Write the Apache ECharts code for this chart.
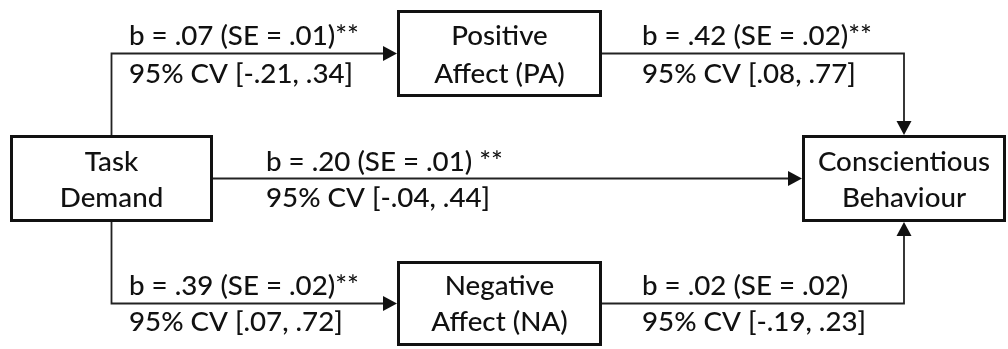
<!DOCTYPE html>
<html><head><meta charset="utf-8">
<script src="https://cdn.jsdelivr.net/npm/echarts@6/dist/echarts.min.js"></script>
<style>html,body{margin:0;padding:0;background:#fff}#chart{width:1008px;height:349px}</style>
</head><body><div id="chart"></div>
<script>
// ---------------- data ----------------
const nodeNames = ['Task\nDemand', 'Positive\nAffect (PA)', 'Negative\nAffect (NA)', 'Conscientious\nBehaviour'];
const pathFrom = [0, 1, 0, 0, 2];
const pathTo   = [1, 3, 3, 2, 3];
const pathCoef = ['b = .07 (SE = .01)**', 'b = .42 (SE = .02)**', 'b = .20 (SE = .01) **', 'b = .39 (SE = .02)**', 'b = .02 (SE = .02)'];
const pathCI   = ['95% CV [-.21, .34]', '95% CV [.08, .77]', '95% CV [-.04, .44]', '95% CV [.07, .72]', '95% CV [-.19, .23]'];

// ---------------- layout (diagram geometry, chart units) ----------------
const boxes = [[10, 135, 213, 222], [397, 10, 602, 97], [397, 261, 602, 346], [802, 135, 1006, 222]];
const rowBaselines = [[45, 82.5], [170.5, 207], [295, 331]];
const nodeRow = [1, 0, 2, 1];
const pathRoute = ['up-right', 'right-down', 'right', 'down-right', 'right-up'];
const pathLabelX = [129, 642, 266, 129, 642];
const pathLabelRow = [0, 0, 1, 2, 2];

// ---------------- styles ----------------
const FONT = 'Lato';
const WEIGHT = 500;
const TEXT_COLOR = '#111';
const BOX_COLOR = '#111';
const LINE_COLOR = '#222';
const ARROW_LEN = 14, ARROW_HALF = 7.5;

const mctx = document.createElement('canvas').getContext('2d');
mctx.font = WEIGHT + ' 100px ' + FONT;
const refW = mctx.measureText(pathCoef[0]).width + mctx.measureText(pathCI[0]).width;
const FS = 100 * (237 + 217) / refW;
mctx.font = WEIGHT + ' ' + FS + 'px ' + FONT;
mctx.textBaseline = 'middle';
let BASE_OFF = mctx.measureText('H').actualBoundingBoxDescent;
if (!(BASE_OFF > 0)) BASE_OFF = 0.35 * FS;

function textEl(api, str, x, baseline, align) {
  const p = api.coord([x, baseline]);
  return { type: 'text', style: { text: str, x: p[0], y: p[1] - BASE_OFF, align: align, verticalAlign: 'middle',
    fontSize: FS, fontFamily: FONT, fontWeight: WEIGHT, fill: TEXT_COLOR } };
}
const cx = b => (b[0] + b[2]) / 2, cy = b => (b[1] + b[3]) / 2;

function routePoints(i) {
  const f = boxes[pathFrom[i]], t = boxes[pathTo[i]];
  switch (pathRoute[i]) {
    case 'up-right':   return [[cx(f), f[1]], [cx(f), cy(t)], [t[0], cy(t)]];
    case 'down-right': return [[cx(f), f[3]], [cx(f), cy(t)], [t[0], cy(t)]];
    case 'right-down': return [[f[2], cy(f)], [cx(t), cy(f)], [cx(t), t[1]]];
    case 'right-up':   return [[f[2], cy(f)], [cx(t), cy(f)], [cx(t), t[3]]];
    default:           return [[f[2], cy(t)], [t[0], cy(t)]];
  }
}

const chart = echarts.init(document.getElementById('chart'), null, { renderer: 'canvas' });
chart.setOption({
  animation: false,
  backgroundColor: '#fff',
  grid: { left: 0, right: 0, top: 0, bottom: 0 },
  xAxis: { type: 'value', min: 0, max: 1008, show: false },
  yAxis: { type: 'value', min: 0, max: 349, inverse: true, show: false },
  series: [
    { // paths
      type: 'custom', coordinateSystem: 'cartesian2d', silent: true, z: 1,
      data: pathCoef.map((_, i) => [i, 0]),
      renderItem: function (params, api) {
        const i = params.dataIndex;
        const pts = routePoints(i).map(p => api.coord(p));
        const end = pts[pts.length - 1], prev = pts[pts.length - 2];
        let dx = end[0] - prev[0], dy = end[1] - prev[1];
        const L = Math.hypot(dx, dy); dx /= L; dy /= L;
        const base = [end[0] - dx * ARROW_LEN, end[1] - dy * ARROW_LEN];
        const line = pts.slice(0, -1).concat([base]);
        return { type: 'group', children: [
          { type: 'polyline', shape: { points: line }, style: { stroke: LINE_COLOR, lineWidth: 1.8, fill: null } },
          { type: 'polygon', shape: { points: [end, [base[0] - dy * ARROW_HALF, base[1] + dx * ARROW_HALF], [base[0] + dy * ARROW_HALF, base[1] - dx * ARROW_HALF]] },
            style: { fill: BOX_COLOR } }
        ] };
      }
    },
    { // path labels
      type: 'custom', coordinateSystem: 'cartesian2d', silent: true, z: 2,
      data: pathCoef.map((_, i) => [i, 0]),
      renderItem: function (params, api) {
        const i = params.dataIndex, r = rowBaselines[pathLabelRow[i]];
        return { type: 'group', children: [
          textEl(api, pathCoef[i], pathLabelX[i], r[0], 'left'),
          textEl(api, pathCI[i], pathLabelX[i], r[1], 'left')
        ] };
      }
    },
    { // nodes
      type: 'custom', coordinateSystem: 'cartesian2d', silent: true, z: 3,
      data: nodeNames.map((_, i) => [i, 0]),
      renderItem: function (params, api) {
        const i = params.dataIndex, b = boxes[i];
        const p0 = api.coord([b[0], b[1]]), p1 = api.coord([b[2], b[3]]);
        const lines = nodeNames[i].split('\n'), r = rowBaselines[nodeRow[i]];
        return { type: 'group', children: [
          { type: 'rect', shape: { x: p0[0] + 1.5, y: p0[1] + 1.5, width: p1[0] - p0[0] - 3, height: p1[1] - p0[1] - 3 },
            style: { fill: '#fff', stroke: BOX_COLOR, lineWidth: 3 } },
          textEl(api, lines[0], cx(b), r[0], 'center'),
          textEl(api, lines[1], cx(b), r[1], 'center')
        ] };
      }
    }
  ]
});
</script></body></html>
